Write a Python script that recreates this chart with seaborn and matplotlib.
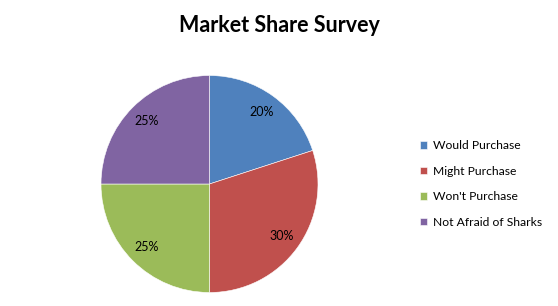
import matplotlib
matplotlib.use("Agg")
import matplotlib.pyplot as plt
import seaborn as sns

categories = ["Would Purchase", "Might Purchase", "Won't Purchase", "Not Afraid of Sharks"]
shares = [20, 30, 25, 25]
colors = ["#4F81BD", "#C0504D", "#9BBB59", "#8064A2"]

sns.set_theme(style="white")
plt.rcParams['font.family'] = ['Lato', 'DejaVu Sans']
plt.rcParams['text.color'] = 'black'

W, H = 558, 306
fig = plt.figure(figsize=(W / 100, H / 100), dpi=100)
cx, cy, r = 209.5, 184, 108.5
ax = fig.add_axes([(cx - r) / W, (H - cy - r) / H, 2 * r / W, 2 * r / H])
palette = sns.color_palette(colors)
wedges, texts, autotexts = ax.pie(
    shares, colors=palette, startangle=90, counterclock=False,
    autopct='%1.0f%%', pctdistance=0.82, radius=1.0,
    wedgeprops=dict(edgecolor='white', linewidth=0.4),
    textprops=dict(fontsize=9, color='black'))
ax.set_xlim(-1, 1)
ax.set_ylim(-1, 1)
ax.set_aspect('equal')
ax.axis('off')

fig.text(279 / W, 1 - 26 / H, "Market Share Survey", ha='center', va='center',
         fontsize=15.5, fontweight='bold', color='black')

fig.legend(wedges, categories, loc='center left',
           bbox_to_anchor=(420 / W, (H - 184) / H), frameon=False,
           fontsize=8.7, handlelength=0.6, handleheight=0.6,
           handletextpad=0.5, labelspacing=1.2, borderpad=0, borderaxespad=0,
           labelcolor='black')

fig.savefig("out.png", dpi=100)
